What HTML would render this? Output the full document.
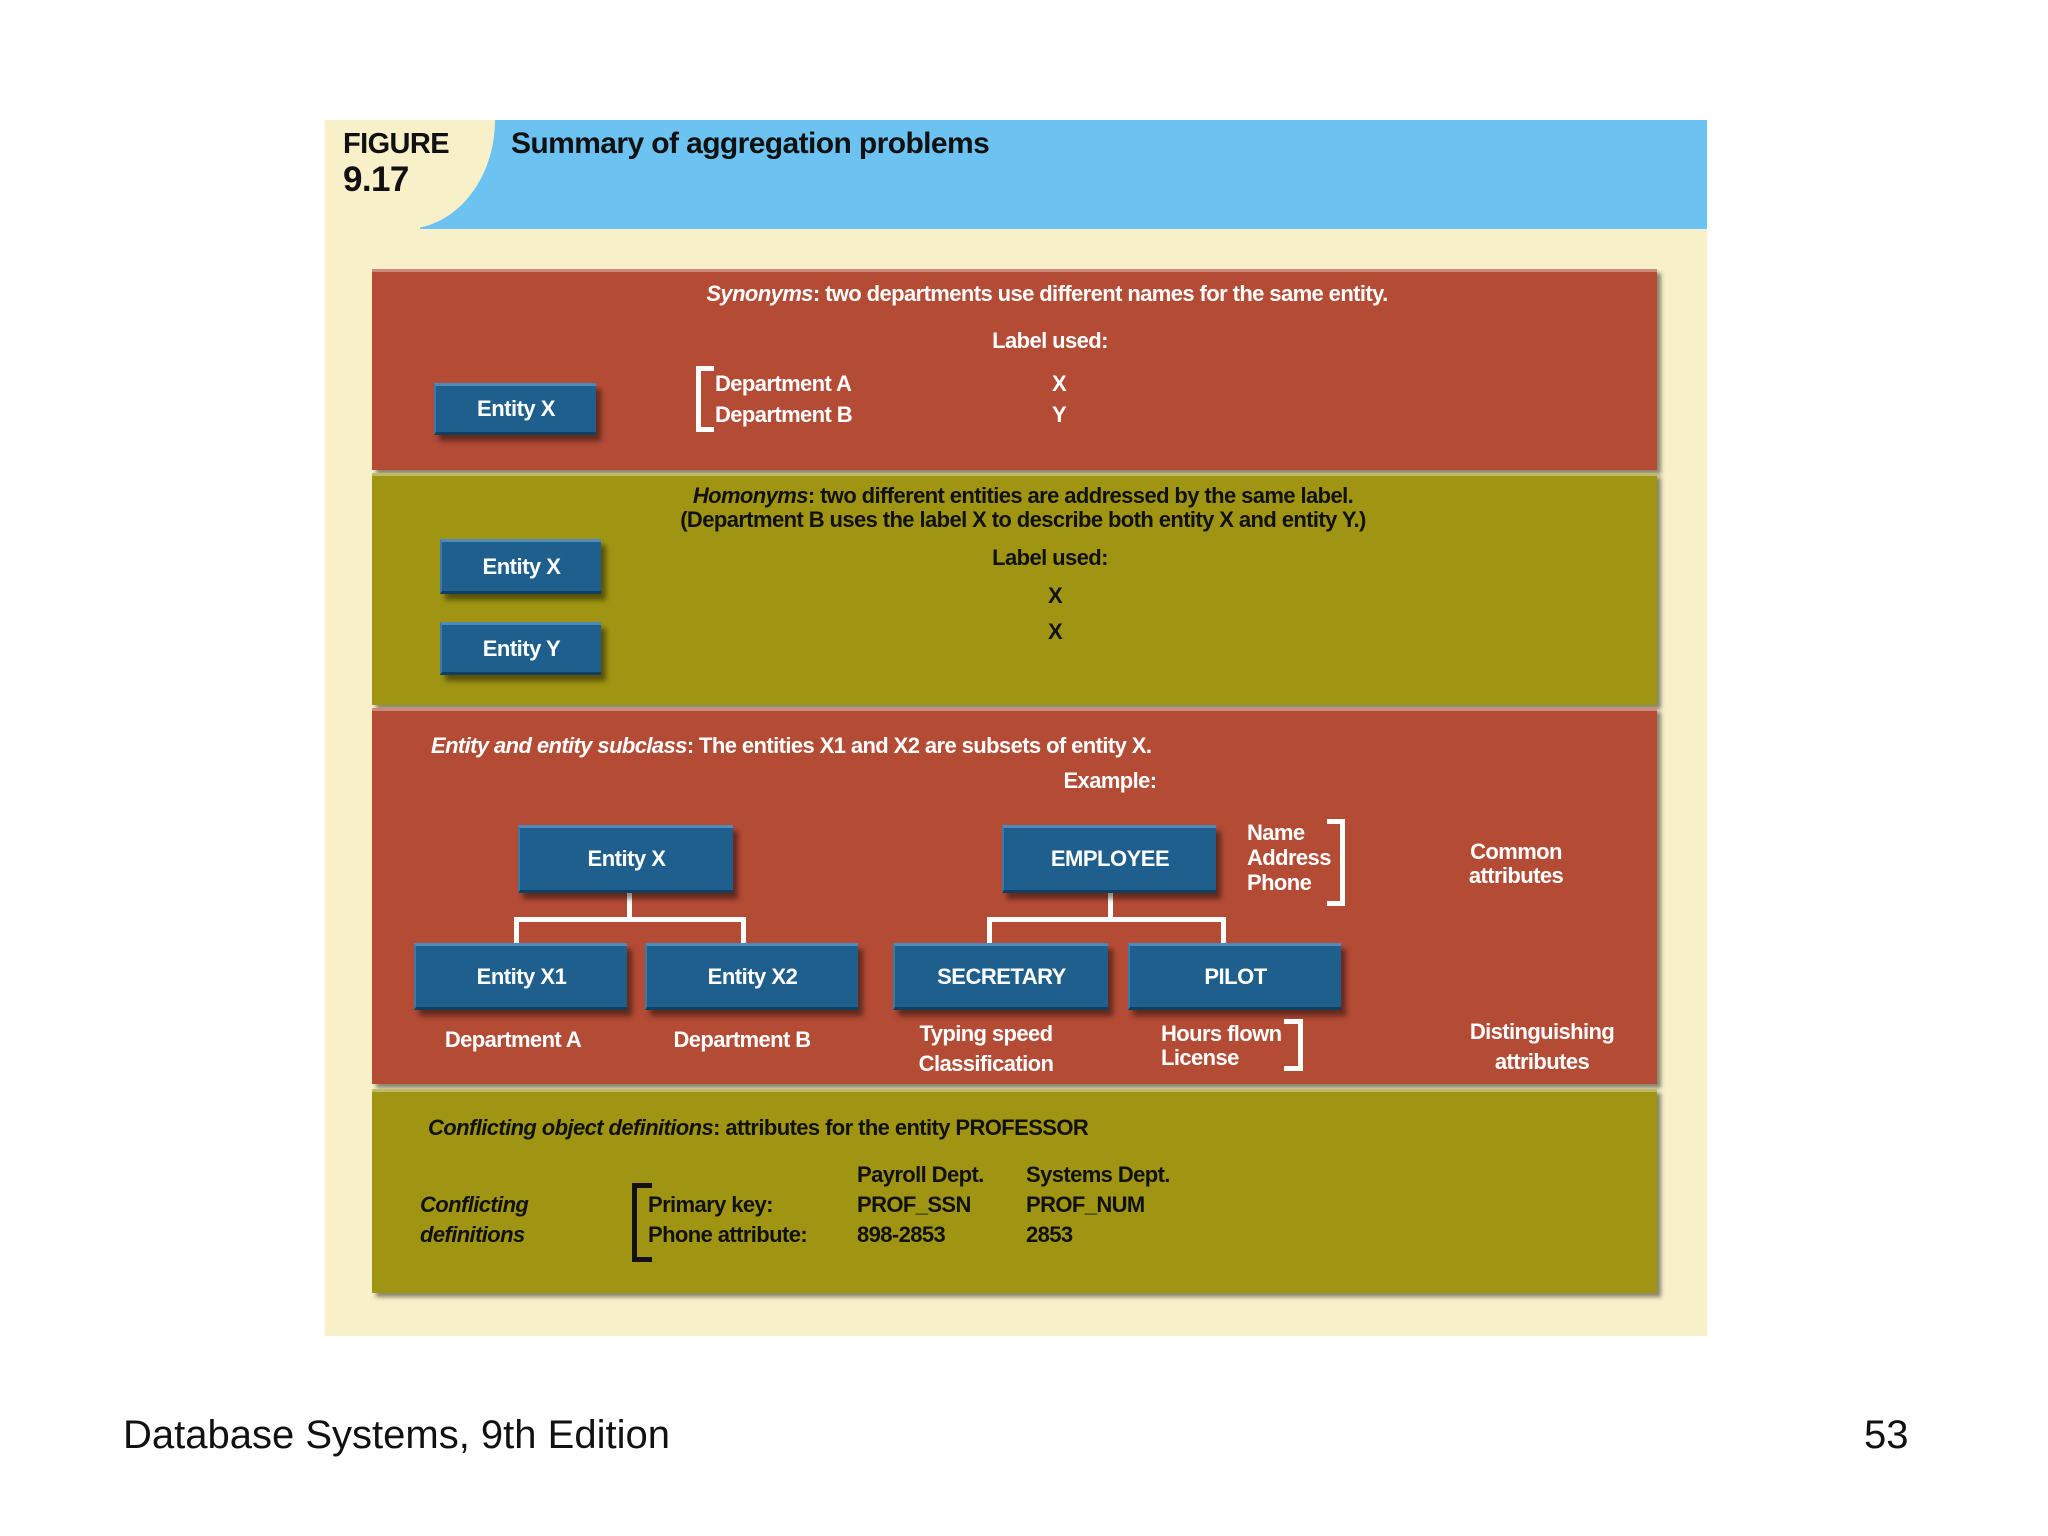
<!DOCTYPE html>
<html><head><meta charset="utf-8"><style>
*{margin:0;padding:0;box-sizing:border-box}
body{width:2048px;height:1536px;background:#fff;position:relative;overflow:hidden;font-family:"Liberation Sans",sans-serif}
.a{position:absolute}
.t{position:absolute;white-space:nowrap;font-weight:bold;font-size:22px;line-height:26px;letter-spacing:-0.6px}
.w{color:#fff}.k{color:#111}
.c{transform:translateX(-50%)}
.p{position:absolute;left:372px;width:1285px;box-shadow:4px 4px 4px rgba(0,0,0,.45);border-top:3px solid rgba(255,255,255,.35)}
.red{background:#b34b35}.ol{background:#a09512}
.b{position:absolute;background:#1e5f8e;color:#fff;font-weight:bold;font-size:22px;display:flex;align-items:center;justify-content:center;letter-spacing:-0.5px;border-top:3px solid #4f8bb8;border-left:2px solid #3d79a6;border-bottom:3px solid #123f60;box-shadow:5px 6px 5px rgba(0,0,0,.45)}
.ln{position:absolute;background:#fff}
</style></head><body>
<div class="a" style="left:325px;top:120px;width:1382px;height:1216px;background:#f8f0c9"></div>
<div class="a" style="left:420px;top:120px;width:1287px;height:109px;background:#6cc3f2"></div>
<div class="a" style="left:325px;top:120px;width:170px;height:109px;background:#f8f0c9;border-bottom-right-radius:90px 109px"></div>
<div class="t k" style="left:343px;top:128px;font-size:29px;line-height:32px">FIGURE</div>
<div class="t k" style="left:343px;top:161px;font-size:35px;line-height:38px">9.17</div>
<div class="t k" style="left:511px;top:128px;font-size:30px;line-height:32px">Summary of aggregation problems</div>

<div class="p red" style="top:269px;height:201px"></div>
<div class="p ol" style="top:473px;height:232px"></div>
<div class="p red" style="top:708px;height:376px"></div>
<div class="p ol" style="top:1089px;height:204px"></div>

<!-- P1 -->
<div class="t w c" style="left:1047px;top:281px"><i>Synonyms</i>: two departments use different names for the same entity.</div>
<div class="t w c" style="left:1050px;top:328px">Label used:</div>
<div class="b" style="left:434px;top:383px;width:162px;height:52px">Entity X</div>
<div class="a" style="left:696px;top:366px;width:18px;height:66px;border:5px solid #fff;border-right:none"></div>
<div class="t w" style="left:715px;top:371px">Department A</div>
<div class="t w" style="left:715px;top:402px">Department B</div>
<div class="t w c" style="left:1059px;top:371px">X</div>
<div class="t w c" style="left:1059px;top:402px">Y</div>

<!-- P2 -->
<div class="t k c" style="left:1023px;top:483px"><i>Homonyms</i>: two different entities are addressed by the same label.</div>
<div class="t k c" style="left:1023px;top:507px">(Department B uses the label X to describe both entity X and entity Y.)</div>
<div class="t k c" style="left:1050px;top:545px">Label used:</div>
<div class="t k c" style="left:1055px;top:583px">X</div>
<div class="t k c" style="left:1055px;top:619px">X</div>
<div class="b" style="left:440px;top:539px;width:161px;height:55px">Entity X</div>
<div class="b" style="left:440px;top:622px;width:161px;height:53px">Entity Y</div>

<!-- P3 -->
<div class="t w" style="left:431px;top:733px"><i>Entity and entity subclass</i>: The entities X1 and X2 are subsets of entity X.</div>
<div class="t w c" style="left:1110px;top:768px">Example:</div>
<div class="ln" style="left:627px;top:893px;width:5px;height:26px"></div>
<div class="ln" style="left:514px;top:917px;width:232px;height:5px"></div>
<div class="ln" style="left:514px;top:917px;width:5px;height:28px"></div>
<div class="ln" style="left:741px;top:917px;width:5px;height:28px"></div>
<div class="ln" style="left:1108px;top:893px;width:5px;height:26px"></div>
<div class="ln" style="left:987px;top:917px;width:239px;height:5px"></div>
<div class="ln" style="left:987px;top:917px;width:5px;height:28px"></div>
<div class="ln" style="left:1221px;top:917px;width:5px;height:28px"></div>
<div class="b" style="left:518px;top:825px;width:215px;height:68px">Entity X</div>
<div class="b" style="left:1002px;top:825px;width:214px;height:68px">EMPLOYEE</div>
<div class="b" style="left:414px;top:943px;width:213px;height:67px">Entity X1</div>
<div class="b" style="left:645px;top:943px;width:213px;height:67px">Entity X2</div>
<div class="b" style="left:893px;top:943px;width:215px;height:67px">SECRETARY</div>
<div class="b" style="left:1128px;top:943px;width:213px;height:67px">PILOT</div>
<div class="t w" style="left:1247px;top:820px">Name</div>
<div class="t w" style="left:1247px;top:845px">Address</div>
<div class="t w" style="left:1247px;top:870px">Phone</div>
<div class="a" style="left:1327px;top:819px;width:18px;height:87px;border:5px solid #fff;border-left:none"></div>
<div class="t w c" style="left:1516px;top:839px">Common</div>
<div class="t w c" style="left:1516px;top:863px">attributes</div>
<div class="t w c" style="left:513px;top:1027px">Department A</div>
<div class="t w c" style="left:742px;top:1027px">Department B</div>
<div class="t w c" style="left:986px;top:1021px">Typing speed</div>
<div class="t w c" style="left:986px;top:1051px">Classification</div>
<div class="t w" style="left:1161px;top:1021px">Hours flown</div>
<div class="t w" style="left:1161px;top:1045px">License</div>
<div class="a" style="left:1284px;top:1019px;width:19px;height:52px;border:5px solid #fff;border-left:none"></div>
<div class="t w c" style="left:1542px;top:1019px">Distinguishing</div>
<div class="t w c" style="left:1542px;top:1049px">attributes</div>

<!-- P4 -->
<div class="t k" style="left:428px;top:1115px"><i>Conflicting object definitions</i>: attributes for the entity PROFESSOR</div>
<div class="t k" style="left:420px;top:1192px"><i>Conflicting</i></div>
<div class="t k" style="left:420px;top:1222px"><i>definitions</i></div>
<div class="a" style="left:632px;top:1183px;width:20px;height:79px;border:5px solid #111;border-right:none"></div>
<div class="t k" style="left:648px;top:1192px">Primary key:</div>
<div class="t k" style="left:648px;top:1222px">Phone attribute:</div>
<div class="t k" style="left:857px;top:1162px">Payroll Dept.</div>
<div class="t k" style="left:857px;top:1192px">PROF_SSN</div>
<div class="t k" style="left:857px;top:1222px">898-2853</div>
<div class="t k" style="left:1026px;top:1162px">Systems Dept.</div>
<div class="t k" style="left:1026px;top:1192px">PROF_NUM</div>
<div class="t k" style="left:1026px;top:1222px">2853</div>

<div class="a" style="left:123px;top:1413px;font-size:40px;line-height:44px;color:#111">Database Systems, 9th Edition</div>
<div class="a" style="left:1864px;top:1413px;font-size:40px;line-height:44px;color:#111">53</div>
</body></html>
